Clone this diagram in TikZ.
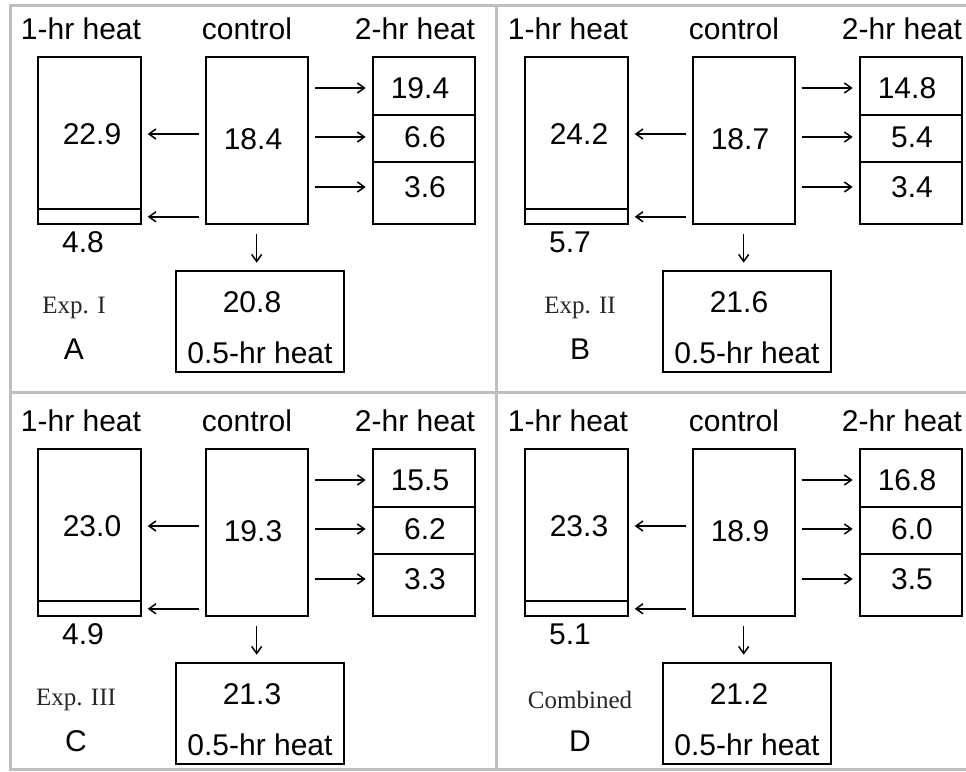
\documentclass[tikz,border=0pt]{standalone}
\usepackage{fontspec}
\setmainfont{Liberation Sans}
\newfontfamily\expfont{Liberation Serif}
\usetikzlibrary{arrows.meta}

\tikzset{
  box/.style={draw, line width=2pt, inner sep=0pt, outer sep=0pt},
  val/.style={font=\fontsize{30}{36}\selectfont, inner sep=0pt},
  hd/.style={font=\fontsize{30}{36}\selectfont, inner sep=0pt, anchor=base},
  expl/.style={font=\expfont\fontsize{25}{30}\selectfont, text=black!85, inner sep=0pt},
  arr/.style={line width=1.5pt, -{Straight Barb[length=7pt,width=10pt]},
              shorten <=7pt, shorten >=7pt},
  frame/.style={draw=black!25, line width=3pt},
}

\newcommand{\heatPanel}[9]{% #1: panel letter, also prefix of the node names
                          % #2: experiment label
                          % #3: control value
                          % #4,#5: 1-hr heat values (upper, lower)
                          % #6: 0.5-hr heat value
                          % #7,#8,#9: 2-hr heat values
  \node (#1hdOne)  [hd] at (81,39)  {1-hr heat};
  \node (#1hdCtrl) [hd] at (247,39) {control};
  \node (#1hdTwo)  [hd] at (415,39) {2-hr heat};

  \node (#1one)    [box, minimum width=103pt, minimum height=152.6pt] at (89.2,133) {};
  \node (#1oneLow) [box, minimum width=103pt, minimum height=15pt, anchor=north] at (#1one.south) {};
  \node (#1ctrl)   [box, minimum width=102pt, minimum height=167.6pt] at (256.7,140.5) {};
  \node (#1twoA)   [box, minimum width=102.3pt, minimum height=58.6pt] at (423.8,86) {};
  \node (#1twoB)   [box, minimum width=102.3pt, minimum height=46.4pt, anchor=north] at (#1twoA.south) {};
  \node (#1twoC)   [box, minimum width=102.3pt, minimum height=62.6pt, anchor=north] at (#1twoB.south) {};
  \node (#1half)   [box, minimum width=168pt, minimum height=101.6pt] at (260,321.5) {};

  \node (#1vOne)    [val] at (92,134)  {#4};
  \node (#1vOneLow) [val] at (83,242)  {#5};
  \node (#1vCtrl)   [val] at (253,139) {#3};
  \node (#1vTwoA)   [val] at (420,88)  {#7};
  \node (#1vTwoB)   [val] at (425,137) {#8};
  \node (#1vTwoC)   [val] at (425,187) {#9};
  \node (#1vHalf)   [val] at (252,302) {#6};
  \node (#1hdHalf)  [val] at (260,353) {0.5-hr heat};

  \node (#1exp) [expl] at (\labx,308) {#2};
  \node (#1tag) [val]  at (\labx,349) {#1};

  \draw[arr] (#1ctrl.west |- #1vOne) -- (#1one.east |- #1vOne);
  \draw[arr] (#1ctrl.west |- #1oneLow) -- (#1oneLow);
  \draw[arr] (#1ctrl.east |- #1vTwoA) -- (#1twoA.west |- #1vTwoA);
  \draw[arr] (#1ctrl.east |- #1vTwoB) -- (#1twoB.west |- #1vTwoB);
  \draw[arr] (#1ctrl.east |- #1vTwoC) -- (#1twoC.west |- #1vTwoC);
  \draw[arr, shorten <=10pt, shorten >=8pt] (#1ctrl.south) -- (#1ctrl.south |- #1half.north);
}

\begin{document}
\begin{tikzpicture}[x=1pt,y=-1pt]
\useasboundingbox (0,0) rectangle (966,771);

% grey frame
\draw[frame] (966,5.5) -- (10.5,5.5) -- (10.5,769) -- (966,769);
\draw[frame] (496.5,5.5) -- (496.5,769);
\draw[frame] (10.5,392) -- (966,392);

\begin{scope}
  \def\labx{74}
  \heatPanel{A}{Exp. I}{18.4}{22.9}{4.8}{20.8}{19.4}{6.6}{3.6}
\end{scope}
\begin{scope}[shift={(487,0)}]
  \def\labx{93}
  \heatPanel{B}{Exp. II}{18.7}{24.2}{5.7}{21.6}{14.8}{5.4}{3.4}
\end{scope}
\begin{scope}[shift={(0,392)}]
  \def\labx{76}
  \heatPanel{C}{Exp. III}{19.3}{23.0}{4.9}{21.3}{15.5}{6.2}{3.3}
\end{scope}
\begin{scope}[shift={(487,392)}]
  \def\labx{93}
  \heatPanel{D}{Combined}{18.9}{23.3}{5.1}{21.2}{16.8}{6.0}{3.5}
\end{scope}
\end{tikzpicture}
\end{document}
